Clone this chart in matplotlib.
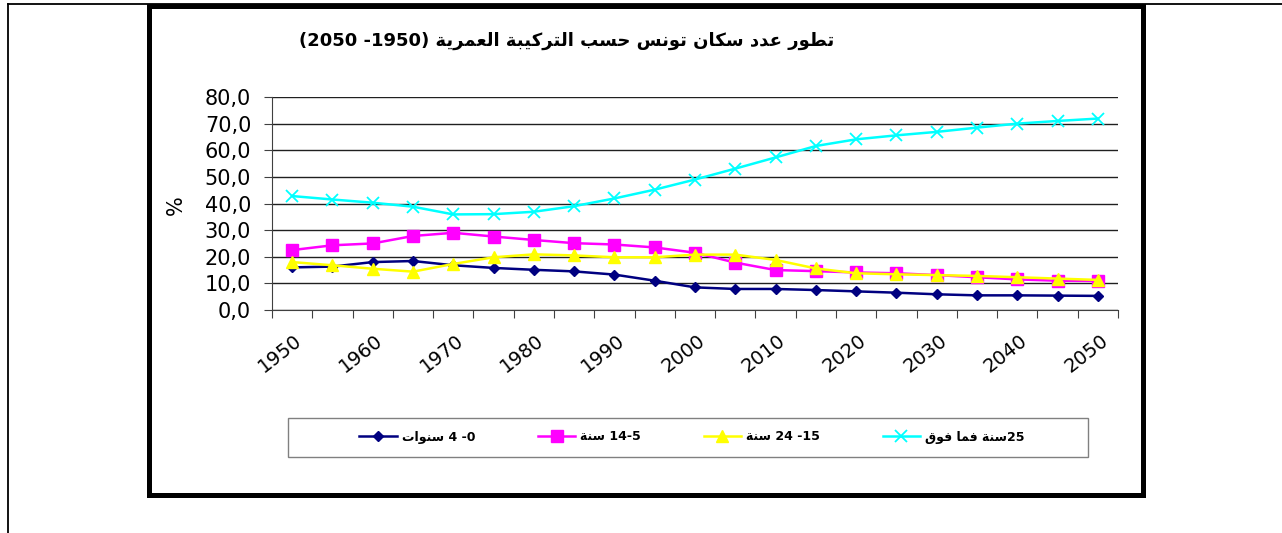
import re
import numpy as np
import matplotlib
matplotlib.use('Agg')
import matplotlib.pyplot as plt
from matplotlib.patches import Rectangle
from matplotlib.lines import Line2D
from matplotlib.transforms import ScaledTranslation

# data (percent of population)
years = [1950, 1955, 1960, 1965, 1970, 1975, 1980, 1985, 1990, 1995, 2000,
         2005, 2010, 2015, 2020, 2025, 2030, 2035, 2040, 2045, 2050]
age_0_4 = [16.0, 16.3, 18.0, 18.4, 16.8, 15.8, 15.1, 14.5, 13.3, 11.0, 8.5,
           7.9, 7.9, 7.5, 7.0, 6.5, 5.9, 5.5, 5.5, 5.4, 5.3]
age_5_14 = [22.5, 24.3, 25.0, 27.8, 29.0, 27.6, 26.3, 25.1, 24.6, 23.5, 21.5,
            17.8, 15.0, 14.6, 14.1, 13.8, 13.1, 12.3, 11.5, 11.0, 10.9]
age_15_24 = [18.0, 16.8, 15.5, 14.4, 17.3, 19.8, 20.9, 20.5, 19.8, 19.8, 20.8,
             20.8, 18.8, 15.6, 13.8, 13.4, 13.1, 12.8, 12.3, 11.8, 11.3]
age_25p = [42.8, 41.5, 40.3, 38.8, 35.9, 36.0, 36.9, 39.0, 41.9, 45.2, 49.0,
           53.1, 57.3, 61.6, 64.1, 65.6, 66.9, 68.5, 70.0, 71.0, 71.9]

series_names = ['0- 4 سنوات', '5-14 سنة', '15- 24 سنة', '25سنة فما فوق']
title = 'تطور عدد سكان تونس حسب التركيبة العمرية (1950- 2050)'
ylabel = '%'

# matplotlib has no arabic shaping -> do a small one by hand
FORMS = {'ا': (0xFE8D, 2), 'ب': (0xFE8F, 4), 'ة': (0xFE93, 2), 'ت': (0xFE95, 4),
         'ح': (0xFEA1, 4), 'د': (0xFEA9, 2), 'ر': (0xFEAD, 2), 'س': (0xFEB1, 4),
         'ط': (0xFEC1, 4), 'ع': (0xFEC9, 4), 'ف': (0xFED1, 4), 'ق': (0xFED5, 4),
         'ك': (0xFED9, 4), 'ل': (0xFEDD, 4), 'م': (0xFEE1, 4), 'ن': (0xFEE5, 4),
         'و': (0xFEED, 2), 'ي': (0xFEF1, 4)}


def shape_word(w):
    out = []
    for i, c in enumerate(w):
        base, n = FORMS[c]
        prev = i > 0 and FORMS[w[i - 1]][1] == 4
        nxt = i < len(w) - 1 and n == 4
        if n == 2:
            code = base + 1 if prev else base
        elif prev and nxt:
            code = base + 3
        elif prev:
            code = base + 1
        elif nxt:
            code = base + 2
        else:
            code = base
        out.append(chr(code))
    return ''.join(reversed(out))


def rtl(s):
    toks = re.findall(r'[\u0600-\u06FF]+|\d+|.', s)
    res = []
    for t in reversed(toks):
        if re.match(r'[\u0600-\u06FF]', t):
            res.append(shape_word(t))
        elif t == '(':
            res.append(')')
        elif t == ')':
            res.append('(')
        else:
            res.append(t)
    return ''.join(res)


plt.rcParams['font.family'] = ['DejaVu Sans']

W, H = 1282, 533
fig = plt.figure(figsize=(W / 100, H / 100), dpi=100)
fig.patch.set_facecolor('white')

ax = fig.add_axes([272 / W, 1 - 310 / H, 846 / W, 213 / H])
x = np.arange(len(years))

ax.plot(x, age_0_4, color='#000080', lw=1.8, marker='D', ms=5.5, label=rtl(series_names[0]))
ax.plot(x, age_5_14, color='#FF00FF', lw=1.8, marker='s', ms=8, label=rtl(series_names[1]))
ax.plot(x, age_15_24, color='#FFFF00', lw=1.8, marker='^', ms=9, label=rtl(series_names[2]))
ax.plot(x, age_25p, color='#00FFFF', lw=1.8, marker='x', ms=8, mew=1.3, label=rtl(series_names[3]))

ax.set_xlim(-0.5, len(years) - 0.5)
ax.set_ylim(0, 80)
ax.set_yticks(np.arange(0, 81, 10))
ax.set_yticklabels([('%.1f' % v).replace('.', ',') for v in np.arange(0, 81, 10)], fontsize=15)
ax.yaxis.grid(True, color='#202020', lw=1.0)
ax.set_axisbelow(True)
for s in ['top', 'right']:
    ax.spines[s].set_visible(False)
for s in ['left', 'bottom']:
    ax.spines[s].set_color('#404040')
ax.tick_params(axis='y', length=6, pad=9, color='#404040')

ax.set_xticks(np.arange(-0.5, len(years), 1))
ax.set_xticklabels([])
ax.tick_params(axis='x', which='major', length=6, color='#404040')
lab_idx = list(range(0, len(years), 2))
ax.set_xticks(lab_idx, minor=True)
ax.set_xticklabels([str(years[i]) for i in lab_idx], minor=True, fontsize=14,
                   rotation=38, ha='right', va='top', rotation_mode='anchor')
ax.tick_params(axis='x', which='minor', length=0, pad=15)
off = ScaledTranslation(2 / 100, 0, fig.dpi_scale_trans)
for t in ax.get_xticklabels(minor=True):
    t.set_transform(t.get_transform() + off)

fig.text(176 / W, 1 - 205 / H, ylabel, rotation=90, fontsize=15, ha='center', va='center')
fig.text(567 / W, 1 - 41 / H, rtl(title), fontsize=13, fontweight='bold', ha='center', va='center')

leg = fig.legend(loc='center', bbox_to_anchor=(692 / W, 1 - 437 / H), ncol=4, frameon=False,
                 handlelength=3, handletextpad=0.4, columnspacing=5,
                 prop={'size': 9, 'weight': 'bold'})

# boxes around chart and legend
fig.add_artist(Rectangle((288 / W, 1 - 457 / H), 800 / W, 39 / H, transform=fig.transFigure,
                         fill=False, edgecolor='#808080', lw=1))
fig.add_artist(Line2D([8 / W, 1], [1 - 4 / H, 1 - 4 / H], transform=fig.transFigure, color='black', lw=1.3))
fig.add_artist(Line2D([8 / W, 8 / W], [0, 1 - 4 / H], transform=fig.transFigure, color='black', lw=1.3))
fig.add_artist(Rectangle((148.5 / W, 1 - 494.5 / H), 994 / W, 489 / H, transform=fig.transFigure,
                         fill=False, edgecolor='black', lw=3.6))

fig.savefig('out.png', dpi=100, facecolor='white')
